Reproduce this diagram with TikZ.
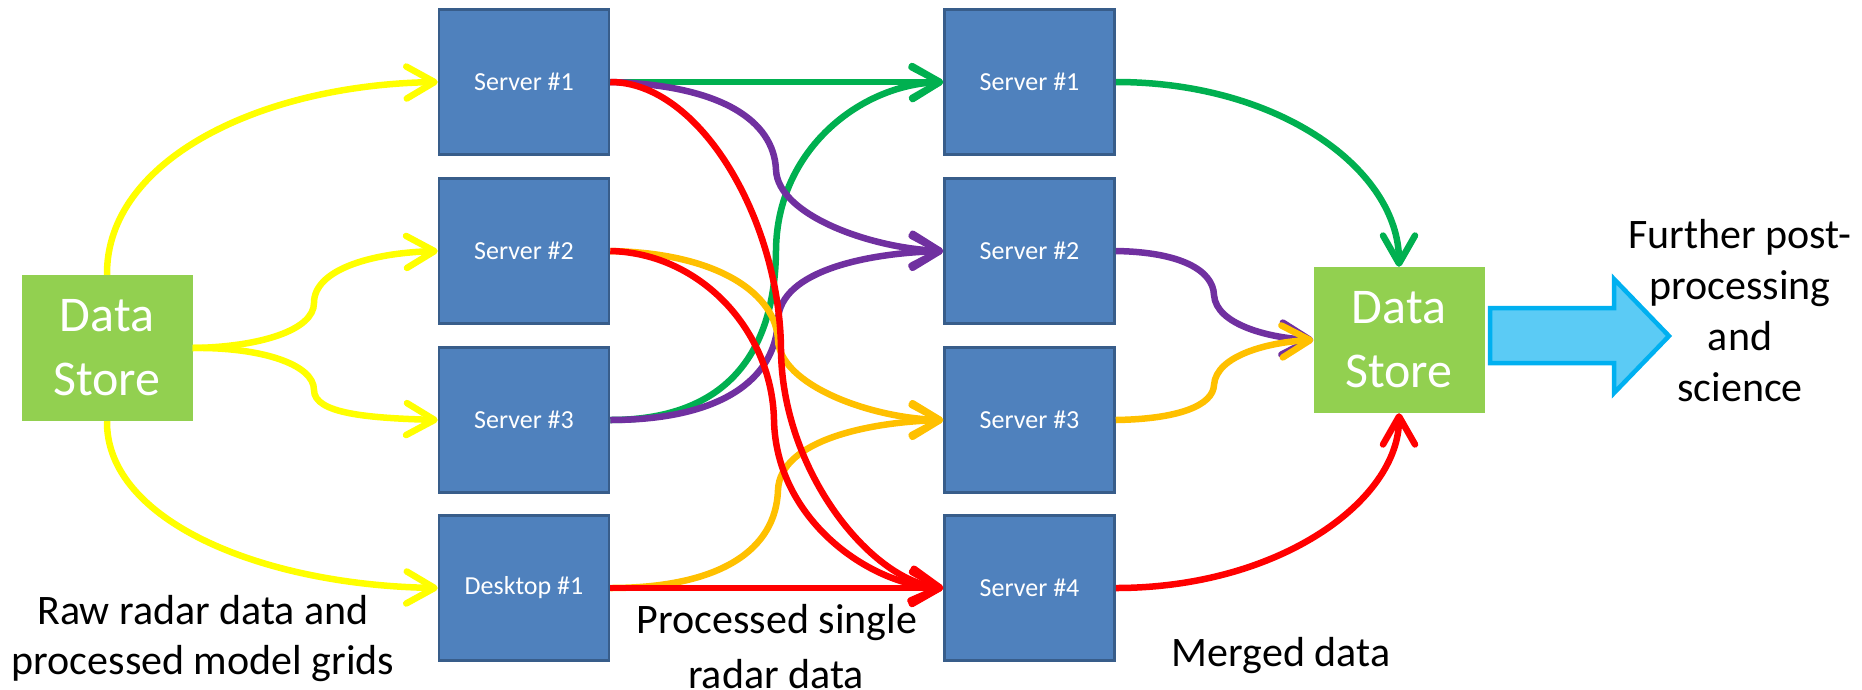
\documentclass[tikz,border=0pt]{standalone}
\usepackage{fontspec}
\setmainfont{Carlito}
\usetikzlibrary{arrows.meta}
\definecolor{boxblue}{HTML}{4F81BD}
\definecolor{boxedge}{HTML}{385D8A}
\definecolor{storegreen}{HTML}{92D050}
\definecolor{flowyellow}{HTML}{FFFF00}
\definecolor{flowgreen}{HTML}{00B050}
\definecolor{flowpurple}{HTML}{7030A0}
\definecolor{flowred}{HTML}{FF0000}
\definecolor{floworange}{HTML}{FFC000}
\definecolor{bigfill}{HTML}{5BCBF5}
\definecolor{bigedge}{HTML}{00B0F0}
\begin{document}
\begin{tikzpicture}[x=1pt,y=-1pt,
  server/.style={draw=boxedge, line width=2.5pt, fill=boxblue, minimum width=170pt,
    minimum height=145pt, inner sep=0pt, text=white, font=\fontsize{26}{31}\selectfont},
  store/.style={fill=storegreen, minimum width=171pt, minimum height=146pt, inner sep=0pt,
    text=white, align=center, font=\fontsize{50}{64}\selectfont},
  flow/.style={line width=6.5pt, -{Straight Barb[length=28pt,width=32pt,round]}},
  caption/.style={font=\fontsize{42}{50}\selectfont, anchor=base, inner sep=0pt}]

\useasboundingbox (0,0) rectangle (1862,689);

% storage and processing nodes
\node[store]  (ds1) at (107,348)  {Data\\Store};
\node[server] (a1)  at (524,82)   {Server \#1};
\node[server] (a2)  at (524,251)  {Server \#2};
\node[server] (a3)  at (524,420)  {Server \#3};
\node[server] (a4)  at (524,588)  {Desktop \#1};
\node[server] (b1)  at (1029.5,82)  {Server \#1};
\node[server] (b2)  at (1029.5,251) {Server \#2};
\node[server] (b3)  at (1029.5,420) {Server \#3};
\node[server] (b4)  at (1029.5,588) {Server \#4};
\node[store]  (ds2) at (1399,340) {Data\\Store};

% raw data distribution
\draw[flow, flowyellow] (ds1.north) .. controls (106,160) and (260,85) .. (a1.west);
\draw[flow, flowyellow] (ds1.east) .. controls (260,347) and (314,330) .. (314,303)
  .. controls (314,270) and (370,253) .. (a2.west);
\draw[flow, flowyellow] (ds1.east) .. controls (260,347) and (314,364) .. (314,390)
  .. controls (314,414) and (370,418) .. (a3.west);
\draw[flow, flowyellow] (ds1.south) .. controls (106,520) and (260,585) .. (a4.west);

% single radar products to the merging servers
\draw[flow, flowgreen] (a1.east) -- (b1.west);
\draw[flow, flowgreen] (a3.east) .. controls (720,420) and (775,360) .. (776,250)
  .. controls (777,150) and (860,85) .. (b1.west);
\draw[flow, flowpurple] (a1.east) .. controls (720,85) and (774,120) .. (776,170)
  .. controls (778,215) and (870,248) .. (b2.west);
\draw[flow, flowpurple] (a3.east) .. controls (720,420) and (776,380) .. (778,320)
  .. controls (780,270) and (870,253) .. (b2.west);
\draw[flow, floworange] (a2.east) .. controls (720,253) and (776,295) .. (778,340)
  .. controls (780,385) and (870,418) .. (b3.west);
\draw[flow, floworange] (a4.east) .. controls (720,588) and (776,550) .. (778,490)
  .. controls (780,440) and (870,422) .. (b3.west);
\draw[flow, flowred] (a1.east) .. controls (700,82) and (780,220) .. (781,350)
  .. controls (782,470) and (870,580) .. (b4.west);
\draw[flow, flowred] (a2.east) .. controls (700,253) and (772,330) .. (774,420)
  .. controls (776,520) and (870,585) .. (b4.west);
\draw[flow, flowred] (a4.east) -- (b4.west);

% merged products into the archive
\draw[flow, flowgreen] (b1.east) .. controls (1280,82) and (1399,170) .. (ds2.north);
\draw[flow, flowpurple] (b2.east) .. controls (1180,252) and (1213,270) .. (1214,295)
  .. controls (1216,325) and (1270,338) .. (ds2.west);
\draw[flow, floworange] (b3.east) .. controls (1180,419) and (1213,405) .. (1214,385)
  .. controls (1216,355) and (1270,342) .. (ds2.west);
\draw[flow, flowred] (b4.east) .. controls (1280,588) and (1399,500) .. (ds2.south);

% outgoing block arrow
\draw[fill=bigfill, draw=bigedge, line width=4.5pt, line join=miter]
  (1490,308) -- (1614,308) -- (1614,279) -- (1669,336) -- (1614,393)
  -- (1614,363) -- (1490,363) -- cycle;

% captions
\node[caption] (raw1) at (203,624) {Raw radar data and};
\node[caption] (raw2) at (203,674) {processed model grids};
\node[caption] (proc1) at (777,633) {Processed single};
\node[caption] (proc2) at (776,688) {radar data};
\node[caption] (merged) at (1281,666) {Merged data};
\node[caption] (fur1) at (1740,248) {Further post-};
\node[caption] (fur2) at (1740,299.5) {processing};
\node[caption] (fur3) at (1740,350.5) {and};
\node[caption] (fur4) at (1740,401.5) {science};
\end{tikzpicture}
\end{document}
